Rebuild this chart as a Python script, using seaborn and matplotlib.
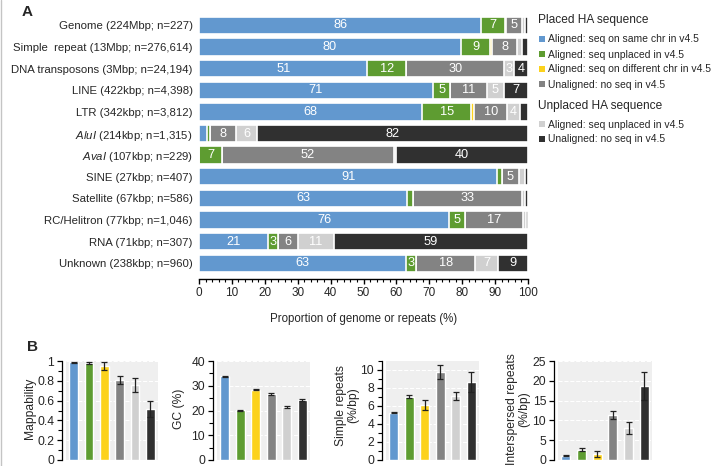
import numpy as np
import matplotlib
matplotlib.use("Agg")
import matplotlib.pyplot as plt
from matplotlib.patches import Rectangle
from matplotlib.lines import Line2D
from matplotlib.ticker import MultipleLocator, FuncFormatter
import seaborn as sns

# ---------------- Data (panel A) ----------------
categories = [
    "Genome (224Mbp; n=227)",
    "Simple  repeat (13Mbp; n=276,614)",
    "DNA transposons (3Mbp; n=24,194)",
    "LINE (422kbp; n=4,398)",
    "LTR (342kbp; n=3,812)",
    r"$\mathit{AluI}$ (214kbp; n=1,315)",
    r"$\mathit{AvaI}$ (107kbp; n=229)",
    "SINE (27kbp; n=407)",
    "Satellite (67kbp; n=586)",
    "RC/Helitron (77kbp; n=1,046)",
    "RNA (71kbp; n=307)",
    "Unknown (238kbp; n=960)",
]
aligned_same_chr = [85.8, 79.6, 51.2, 71.1, 67.9, 2.5, 0.0, 90.7, 63.3, 76.0, 21.0, 63.0]
aligned_unplaced = [7.2, 9.0, 11.8, 5.3, 14.8, 0.7, 7.0, 1.3, 1.8, 5.0, 3.0, 3.0]
aligned_diff_chr = [0.4, 0.4, 0.0, 0.0, 0.9, 0.0, 0.0, 0.0, 0.0, 0.0, 0.0, 0.0]
unaligned_placed = [4.8, 7.8, 29.8, 11.0, 10.1, 8.0, 52.3, 5.2, 33.0, 17.4, 6.0, 18.0]
unplaced_aligned = [0.9, 1.4, 3.0, 5.3, 3.8, 6.4, 0.7, 1.8, 0.9, 0.9, 11.0, 7.0]
unplaced_unaligned = [0.9, 1.8, 4.2, 7.3, 2.5, 82.4, 40.0, 1.0, 1.0, 0.7, 59.0, 9.0]

series_labels = [
    "Aligned: seq on same chr in v4.5",
    "Aligned: seq unplaced in v4.5",
    "Aligned: seq on different chr in v4.5",
    "Unaligned: no seq in v4.5",
    "Aligned: seq unplaced in v4.5",
    "Unaligned: no seq in v4.5",
]
series_colors = ["#6298CF", "#5E9C31", "#FCD21C", "#838383", "#D0D0D0", "#303030"]

# ---------------- Data (panel B) ----------------
groups = ["same", "unplaced", "diff", "unaligned", "unpl_aligned", "unpl_unaligned"]
mappability = [0.987, 0.980, 0.952, 0.807, 0.757, 0.514]
mappability_err = [0.004, 0.006, 0.040, 0.044, 0.067, 0.080]
gc_pct = [33.8, 20.2, 28.3, 26.7, 21.5, 24.3]
gc_err = [0.3, 0.2, 0.2, 0.3, 0.3, 0.3]
simple_rep = [5.25, 7.05, 6.1, 9.8, 7.15, 8.65]
simple_err = [0.08, 0.15, 0.55, 0.75, 0.45, 1.1]
interspersed = [1.1, 2.6, 1.4, 11.4, 8.1, 18.7]
interspersed_err = [0.2, 0.4, 0.75, 1.05, 1.5, 3.6]

# ---------------- Style ----------------
sns.set_theme(style="ticks")
plt.rcParams["font.family"] = ["Liberation Sans", "DejaVu Sans"]
plt.rcParams.update({
    "mathtext.fontset": "custom",
    "mathtext.it": "Liberation Sans:italic",
    "mathtext.rm": "Liberation Sans",
    "mathtext.bf": "Liberation Sans:bold",
})

W, H = 719, 466
fig = plt.figure(figsize=(W / 100, H / 100), dpi=100)


def fx(px):
    return px / W


def fy(py):
    return 1 - py / H


# ---------------- Panel A ----------------
axA = fig.add_axes([fx(199), fy(279), fx(528) - fx(199), fy(14) - fy(279)])
series = np.array([aligned_same_chr, aligned_unplaced, aligned_diff_chr,
                   unaligned_placed, unplaced_aligned, unplaced_unaligned])
cum = np.cumsum(series, axis=0)
for k in reversed(range(len(series))):
    sns.barplot(x=cum[k], y=categories, orient="h", color=series_colors[k],
                saturation=1, width=0.8, edgecolor="white", linewidth=1.2,
                ax=axA, order=categories)

for i in range(len(categories)):
    for k in range(len(series)):
        w = series[k][i]
        if w >= 2.9:
            axA.text(cum[k][i] - w / 2, i, f"{int(round(w))}", ha="center",
                     va="center", color="white", fontsize=9.2)

axA.set_xlim(0, 100)
axA.set_ylim(11.72, -0.52)
for s in ["top", "right", "left"]:
    axA.spines[s].set_visible(False)
axA.spines["bottom"].set_color("black")
axA.spines["bottom"].set_linewidth(1.0)
axA.xaxis.set_major_locator(MultipleLocator(10))
axA.xaxis.set_minor_locator(MultipleLocator(2))
axA.tick_params(axis="x", which="major", direction="out", length=3.5, width=1,
                color="black", labelsize=8.5, pad=2, bottom=True)
axA.tick_params(axis="x", which="minor", direction="out", length=2.2, width=0.8,
                color="black", bottom=True)
axA.tick_params(axis="y", length=0, labelsize=8.2, pad=4.5)
axA.set_ylabel("")
axA.set_xlabel("Proportion of genome or repeats (%)", fontsize=8.3)
axA.xaxis.set_label_coords(0.5, -0.13)

# legend (manual)
fig.text(fx(538), fy(20), "Placed HA sequence", fontsize=8.6, ha="left", va="center")
fig.text(fx(538), fy(106), "Unplaced HA sequence", fontsize=8.6, ha="left", va="center")
legend_y = [39.5, 54.5, 69.5, 84.5, 124.5, 139.5]
for k, yy in enumerate(legend_y):
    fig.patches.append(Rectangle((fx(539), fy(yy + 2.8)), fx(6), 6 / H,
                                 transform=fig.transFigure,
                                 facecolor=series_colors[k], edgecolor="none"))
    fig.text(fx(548), fy(yy), series_labels[k], fontsize=7.5, ha="left", va="center")

# ---------------- Panel B ----------------
panels = [
    (66, 158, mappability, mappability_err, 1.0, 0.2, 0.1),
    (217, 310, gc_pct, gc_err, 40, 10, 5),
    (386, 479, simple_rep, simple_err, 11, 2, 1),
    (558, 652, interspersed, interspersed_err, 25, 5, None),
]
for (l, r, vals, errs, ymax, major, minor) in panels:
    ax = fig.add_axes([fx(l), fy(460), fx(r) - fx(l), fy(361) - fy(460)])
    ax.set_facecolor("#EFEFEF")
    ax.set_axisbelow(True)
    ax.yaxis.grid(True, color="white", linestyle="--", linewidth=0.8)
    sns.barplot(x=groups, y=vals, hue=groups, palette=series_colors,
                legend=False, saturation=1, width=0.56, ax=ax)
    ax.errorbar(np.arange(len(groups)), vals, yerr=errs, fmt="none",
                ecolor="#222222", elinewidth=0.9, capsize=2.5, capthick=0.9)
    ax.set_xlim(-0.5, 5.5)
    ax.set_ylim(0, ymax)
    for s in ["top", "right", "bottom"]:
        ax.spines[s].set_visible(False)
    ax.spines["left"].set_position(("outward", 3))
    ax.spines["left"].set_color("black")
    ax.spines["left"].set_linewidth(0.9)
    ax.set_xticks([])
    ax.set_xlabel("")
    ax.set_ylabel("")
    ax.yaxis.set_major_locator(MultipleLocator(major))
    if minor:
        ax.yaxis.set_minor_locator(MultipleLocator(minor))
    ax.yaxis.set_major_formatter(FuncFormatter(lambda v, p: f"{v:g}"))
    ax.tick_params(axis="y", which="major", direction="out", length=3.5,
                   width=0.9, color="black", labelsize=8.7, pad=2, left=True)
    ax.tick_params(axis="y", which="minor", direction="out", length=3.0,
                   width=0.8, color="black", left=True)

fig.text(fx(30), fy(408), "Mappability", rotation=90, ha="center", va="center", fontsize=8.7)
fig.text(fx(179), fy(409), "GC (%)", rotation=90, ha="center", va="center", fontsize=8.7)
fig.text(fx(347), fy(405), "Simple repeats\n(%/bp)", rotation=90, ha="center",
         va="center", fontsize=8.7, linespacing=1.1)
fig.text(fx(518), fy(409), "Interspersed repeats\n(%/bp)", rotation=90, ha="center",
         va="center", fontsize=8.7, linespacing=1.1)

# panel letters
fig.text(fx(27.5), fy(12.5), "A", fontsize=11, fontweight="bold", ha="center", va="center")
fig.text(fx(33), fy(347), "B", fontsize=11, fontweight="bold", ha="center", va="center")

# left border line
fig.add_artist(Line2D([fx(0.6), fx(0.6)], [0, 1], transform=fig.transFigure,
                      color="#C4C4C4", linewidth=1.0))

fig.savefig("out.png", dpi=100)
